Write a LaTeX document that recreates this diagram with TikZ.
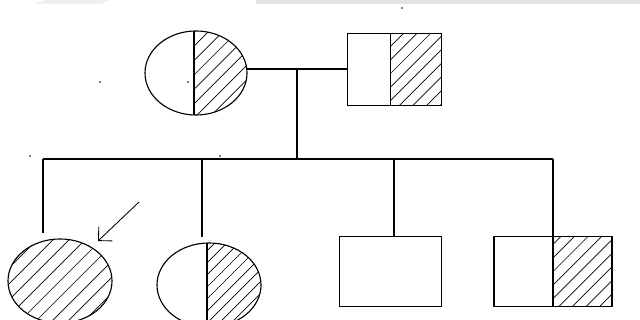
\documentclass[tikz,border=0pt]{standalone}
\usepackage{tikz}
\usetikzlibrary{shapes.geometric,arrows.meta,positioning}

\tikzset{
  person/.style={draw, line width=0.8pt, inner sep=0pt, outer sep=0pt},
  female/.style={person, ellipse},
  male/.style={person, rectangle},
  hatch/.style={line width=0.5pt},
  hatched/.style={path picture={
    \foreach \k in {-14,...,14}
      \draw[hatch, shift={(path picture bounding box.center)}]
        (\k*#1-3cm,-3cm) -- ++(6cm,6cm);}},
  halfhatched/.style 2 args={path picture={
    \clip ([xshift=#2]path picture bounding box.north) rectangle (path picture bounding box.south east);
    \foreach \k in {-14,...,14}
      \draw[hatch, shift={(path picture bounding box.center)}]
        (\k*#1-3cm,-3cm) -- ++(6cm,6cm);}},
  split/.style={line width=0.8pt},
  link/.style={line width=1pt},
  speck/.style={circle, fill=black, inner sep=0pt, minimum size=1.3pt}
}

\begin{document}
\begin{tikzpicture}[x=0.025cm, y=-0.025cm]
\useasboundingbox (0,0) rectangle (640,320);
% top band of the scan
\fill[black!11] (256,0) rectangle (640,4);
\fill[black!6] (33,4) -- (45,0) -- (110,0) -- (100,4) -- cycle;

% parents
\node[female, halfhatched={0.36cm}{-0.05cm}, minimum width=2.55cm, minimum height=2.1cm] (mother) at (196,73) {};
\draw[split] ([xshift=-0.05cm]mother.north) -- ([xshift=-0.05cm]mother.south);
\node[male, halfhatched={0.34cm}{-0.11cm}, minimum width=2.33cm, minimum height=1.78cm] (father) at (394.5,69.5) {};
\draw[split] ([xshift=-0.11cm]father.north) -- ([xshift=-0.11cm]father.south);

% children
\node[female, hatched=0.4cm, minimum width=2.6cm, minimum height=2.1cm] (proband) at (60,281) {};
\node[female, halfhatched={0.3cm}{-0.05cm}, minimum width=2.6cm, minimum height=2.1cm] (daughter) at (209,285) {};
\draw[split] ([xshift=-0.05cm]daughter.north) -- ([xshift=-0.05cm]daughter.south);
\node[male, minimum width=2.53cm, minimum height=1.73cm] (son) at (390.5,271.5) {};
\node[male, halfhatched={0.34cm}{0cm}, minimum width=2.95cm, minimum height=1.73cm] (son2) at (553,271.5) {};
\draw[split] (son2.north) -- (son2.south);

% lines of descent
\coordinate (mate) at (297,69);
\coordinate (sibs) at (297,159);
\coordinate (drop1) at (43,233);
\coordinate (drop2) at (202,237);
\coordinate (drop3) at (394,237);
\draw[link] (mate -| mother.east) -- (mate -| father.west);
\draw[link] (mate) -- (sibs);
\draw[link] (drop1 |- sibs) -- (son2.north |- sibs);
\draw[link] (drop1 |- sibs) -- (drop1);
\draw[link] (drop2 |- sibs) -- (drop2);
\draw[link] (drop3 |- sibs) -- (drop3 |- son.north);
\draw[link] (son2.north |- sibs) -- (son2.north);

% proband arrow
\coordinate (arrowfrom) at (139,202);
\coordinate (arrowto) at (98,241);
\draw[line width=0.6pt, -{Straight Barb[angle=90:10pt]}] (arrowfrom) -- (arrowto);

% specks
\node[speck] (s1) at (402,8) {};
\node[speck] (s2) at (100,82) {};
\node[speck] (s3) at (188,82) {};
\node[speck] (s4) at (30,156) {};
\node[speck] (s5) at (220,156) {};
\end{tikzpicture}
\end{document}
